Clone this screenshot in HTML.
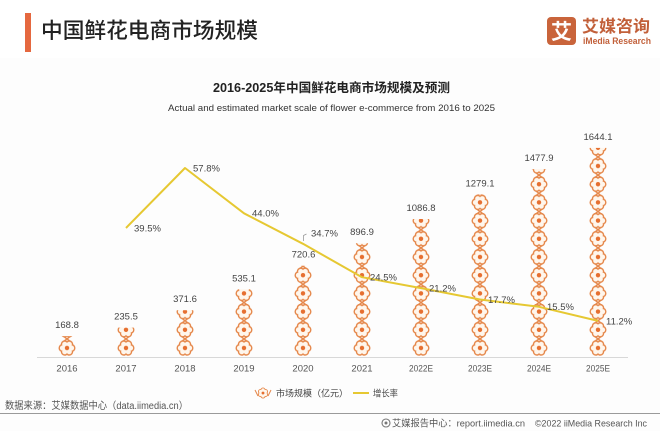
<!DOCTYPE html>
<html>
<head>
<meta charset="utf-8">
<style>
  html, body { margin: 0; padding: 0; background: #fdfdfd; }
  svg { display: block; }
  text { font-family: "Liberation Sans", "Noto Sans CJK SC", sans-serif; }
</style>
</head>
<body>
<svg width="660" height="431" viewBox="0 0 660 431" xmlns="http://www.w3.org/2000/svg">
  <defs>
    <g id="fl">
      <g fill="#e5874a">
        <circle cx="4.5" cy="0" r="4.0"/>
        <circle cx="2.25" cy="3.7" r="4.0"/>
        <circle cx="-2.25" cy="3.7" r="4.0"/>
        <circle cx="-4.5" cy="0" r="4.0"/>
        <circle cx="-2.25" cy="-3.7" r="4.0"/>
        <circle cx="2.25" cy="-3.7" r="4.0"/>
      </g>
      <g fill="#fff6ec">
        <circle cx="0" cy="0" r="4.3"/>
        <circle cx="4.5" cy="0" r="2.6"/>
        <circle cx="2.25" cy="3.7" r="2.6"/>
        <circle cx="-2.25" cy="3.7" r="2.6"/>
        <circle cx="-4.5" cy="0" r="2.6"/>
        <circle cx="-2.25" cy="-3.7" r="2.6"/>
        <circle cx="2.25" cy="-3.7" r="2.6"/>
      </g>
      <circle cx="0" cy="0" r="2.2" fill="#e66f30"/>
    </g>
    <pattern id="pat" patternUnits="userSpaceOnUse" x="37.5" y="338.9" width="59" height="18.2">
      <path d="M25.5,15.2 L33.5,21.2 M33.5,15.2 L25.5,21.2 M25.5,-3 L33.5,3 M33.5,-3 L25.5,3" stroke="#e5874a" stroke-width="1.4" fill="none"/>
      <use href="#fl" x="29.5" y="9.1"/>
    </pattern>
  </defs>

  <!-- header -->
  <rect x="0" y="0" width="660" height="58" fill="#ffffff"/>
  <rect x="25" y="13" width="6" height="39" fill="#e5683f"/>
  <text x="41" y="38" font-size="21.5" font-weight="500" fill="#222" textLength="217" lengthAdjust="spacingAndGlyphs">中国鲜花电商市场规模</text>

  <!-- logo -->
  <rect x="547" y="17" width="29" height="28" rx="4" fill="#c9643b"/>
  <text x="561.5" y="39" font-size="21" font-weight="bold" fill="#ffffff" text-anchor="middle">艾</text>
  <text x="582" y="32" font-size="16.5" font-weight="bold" fill="#c2603a" textLength="68" lengthAdjust="spacingAndGlyphs">艾媒咨询</text>
  <text x="583" y="44" font-size="9" font-weight="bold" fill="#c2603a" textLength="68" lengthAdjust="spacingAndGlyphs">iMedia Research</text>

  <!-- chart titles -->
  <text x="331.5" y="92" font-size="12.5" font-weight="bold" fill="#222" text-anchor="middle" textLength="237" lengthAdjust="spacingAndGlyphs">2016-2025年中国鲜花电商市场规模及预测</text>
  <text x="331.5" y="111" font-size="9.5" fill="#333" text-anchor="middle" textLength="327" lengthAdjust="spacingAndGlyphs">Actual and estimated market scale of flower e-commerce from 2016 to 2025</text>

  <!-- axis -->
  <line x1="37" y1="357.5" x2="628" y2="357.5" stroke="#d8d8d8" stroke-width="1"/>

  <!-- pictograph bars -->
  <g fill="url(#pat)">
    <rect x="57" y="336.1" width="20" height="19.6"/>
    <rect x="116" y="327.6" width="20" height="28.1"/>
    <rect x="175" y="310.2" width="20" height="45.5"/>
    <rect x="234" y="289.3" width="20" height="66.4"/>
    <rect x="293" y="265.7" width="20" height="90"/>
    <rect x="352" y="243.2" width="20" height="112.5"/>
    <rect x="411" y="219.0" width="20" height="136.7"/>
    <rect x="470" y="194.4" width="20" height="161.3"/>
    <rect x="529" y="169.1" width="20" height="186.6"/>
    <rect x="588" y="147.9" width="20" height="207.8"/>
  </g>

  <!-- value labels -->
  <g font-size="9.5" fill="#444" text-anchor="middle">
    <text x="67" y="328">168.8</text>
    <text x="126" y="319.6">235.5</text>
    <text x="185" y="302.2">371.6</text>
    <text x="244" y="281.3">535.1</text>
    <text x="303.5" y="257.7">720.6</text>
    <text x="362" y="235.2">896.9</text>
    <text x="421" y="211">1086.8</text>
    <text x="480" y="186.4">1279.1</text>
    <text x="539" y="161.1">1477.9</text>
    <text x="598" y="139.9">1644.1</text>
  </g>

  <!-- growth line -->
  <polyline points="126,228 185,168 244,213.3 303,243.8 362,277.2 421,288.1 480,299.5 539,306.8 598,320.9" fill="none" stroke="#e6c832" stroke-width="2" stroke-linejoin="round"/>
  <path d="M303.5,241 L303.5,235.5 L306.5,234" fill="none" stroke="#999" stroke-width="0.8"/>

  <!-- pct labels -->
  <g font-size="9.5" fill="#444">
    <text x="134" y="231.4">39.5%</text>
    <text x="193" y="171.4">57.8%</text>
    <text x="252" y="216.7">44.0%</text>
    <text x="311" y="236.5">34.7%</text>
    <text x="370" y="280.6">24.5%</text>
    <text x="429" y="291.5">21.2%</text>
    <text x="488" y="302.9">17.7%</text>
    <text x="547" y="310.2">15.5%</text>
    <text x="606" y="324.3">11.2%</text>
  </g>

  <!-- year labels -->
  <g font-size="9.5" fill="#555" text-anchor="middle">
    <text x="67" y="371.5">2016</text>
    <text x="126" y="371.5">2017</text>
    <text x="185" y="371.5">2018</text>
    <text x="244" y="371.5">2019</text>
    <text x="303" y="371.5">2020</text>
    <text x="362" y="371.5">2021</text>
    <text x="421" y="371.5" textLength="24" lengthAdjust="spacingAndGlyphs">2022E</text>
    <text x="480" y="371.5" textLength="24" lengthAdjust="spacingAndGlyphs">2023E</text>
    <text x="539" y="371.5" textLength="24" lengthAdjust="spacingAndGlyphs">2024E</text>
    <text x="598" y="371.5" textLength="24" lengthAdjust="spacingAndGlyphs">2025E</text>
  </g>

  <!-- legend -->
  <path d="M255,390 L258,396 M271,390 L268,396" stroke="#e5874a" stroke-width="1" fill="none"/>
  <g transform="translate(263,393) rotate(90) scale(0.65)">
    <use href="#fl"/>
  </g>
  <text x="276" y="396.5" font-size="9" fill="#444" textLength="72" lengthAdjust="spacingAndGlyphs">市场规模（亿元）</text>
  <line x1="353" y1="393" x2="369" y2="393" stroke="#e6c832" stroke-width="2"/>
  <text x="373" y="396.5" font-size="9" fill="#444" textLength="25" lengthAdjust="spacingAndGlyphs">增长率</text>

  <!-- source -->
  <text x="5" y="409" font-size="10" fill="#555" textLength="183" lengthAdjust="spacingAndGlyphs">数据来源：艾媒数据中心（data.iimedia.cn）</text>
  <line x1="0" y1="413.5" x2="660" y2="413.5" stroke="#9a9a9a" stroke-width="1"/>

  <!-- footer -->
  <circle cx="386" cy="423" r="4" fill="none" stroke="#777" stroke-width="1.1"/>
  <circle cx="386" cy="423" r="1.5" fill="#777"/>
  <text x="392" y="426.5" font-size="9.5" fill="#555" textLength="133" lengthAdjust="spacingAndGlyphs">艾媒报告中心：report.iimedia.cn</text>
  <text x="535" y="426.5" font-size="9.5" fill="#555" textLength="112" lengthAdjust="spacingAndGlyphs">©2022 iiMedia Research Inc</text>
</svg>
</body>
</html>
